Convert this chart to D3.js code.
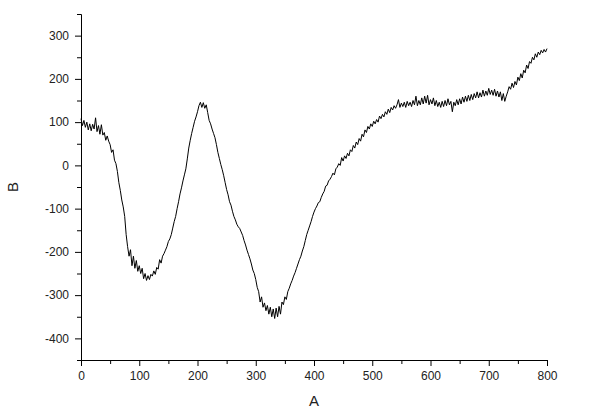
<!DOCTYPE html>
<html>
<head>
<meta charset="utf-8">
<script src="https://cdn.jsdelivr.net/npm/d3@7"></script>
<style>
  body { margin: 0; background: #fff; }
  .axis text { font-family: "Liberation Sans", Arial, sans-serif; font-size: 12px; fill: #222; }
  .axis path, .axis line { stroke: #000; }
  .title { font-family: "Liberation Sans", Arial, sans-serif; font-size: 15px; fill: #222; }
</style>
</head>
<body>
<svg></svg>
<script>
var screen = {width: 591, height: 410};
var margins = {top: 14, right: 44, bottom: 50, left: 81};

// B, one value every 2.5 units of A (0 .. 800)
var xStep = 2.5;
var bValues = [
  108, 92, 104, 88, 100, 82, 96, 80, 95, 84,
  110, 78, 92, 72, 94, 70, 76, 58, 68, 56,
  48, 30, 36, 12, 4, -14, -40, -58, -80, -96,
  -118, -160, -188, -210, -195, -232, -210, -238, -220, -245,
  -232, -250, -238, -262, -250, -266, -255, -264, -252, -256,
  -244, -252, -236, -240, -218, -226, -210, -204, -196, -188,
  -176, -170, -160, -145, -130, -118, -100, -84, -66, -52,
  -36, -22, -8, 15, 40, 58, 74, 88, 102, 112,
  124, 138, 146, 134, 145, 132, 140, 122, 104, 96,
  84, 74, 64, 48, 30, 16, 2, -10, -24, -40,
  -56, -68, -84, -92, -106, -118, -126, -136, -142, -146,
  -154, -162, -174, -184, -196, -206, -216, -228, -242, -250,
  -264, -282, -292, -316, -304, -328, -318, -336, -324, -344,
  -328, -350, -332, -354, -330, -350, -326, -344, -316, -322,
  -304, -310, -292, -284, -274, -266, -256, -248, -238, -228,
  -218, -210, -198, -188, -174, -160, -150, -140, -130, -118,
  -108, -100, -94, -86, -84, -74, -66, -60, -48, -46,
  -36, -32, -26, -18, -22, -8, -4, 4, 0, 18,
  10, 22, 16, 28, 22, 36, 32, 46, 40, 54,
  48, 62, 56, 72, 66, 82, 76, 90, 84, 96,
  90, 102, 96, 106, 100, 114, 108, 118, 112, 124,
  118, 130, 122, 134, 128, 138, 132, 140, 152, 134,
  144, 136, 146, 134, 148, 138, 146, 136, 150, 140,
  160, 138, 150, 140, 156, 142, 160, 144, 162, 140,
  152, 142, 156, 138, 150, 136, 146, 134, 148, 136,
  150, 138, 154, 140, 148, 124, 146, 138, 152, 140,
  154, 142, 158, 146, 160, 148, 162, 150, 164, 152,
  166, 156, 170, 156, 168, 158, 174, 160, 172, 162,
  178, 164, 174, 162, 176, 160, 172, 158, 170, 150,
  166, 148, 160, 170, 182, 176, 190, 180, 194, 186,
  204, 196, 212, 202, 220, 214, 232, 224, 240, 236,
  250, 244, 258, 250, 262, 256, 266, 260, 268, 262,
  270
];

var xTicks = [0, 100, 200, 300, 400, 500, 600, 700, 800];
var xMinor = [50, 150, 250, 350, 450, 550, 650, 750];
var yTicks = [-400, -300, -200, -100, 0, 100, 200, 300];
var yMinor = [-450, -350, -250, -150, -50, 50, 150, 250, 350];

var setup = function()
{
    var svg = d3.select("svg")
    .attr("width", screen.width)
    .attr("height", screen.height);

    var width = screen.width - margins.left - margins.right;
    var height = screen.height - margins.top - margins.bottom;

    var g = svg.append("g")
    .attr("transform", "translate(" + margins.left + "," + margins.top + ")");

    var xScale = d3.scaleLinear().domain([0, 800]).range([0, width]);
    var yScale = d3.scaleLinear().domain([-450, 350]).range([height, 0]);
    var plain = function(d){ return String(d); }; // hyphen minus, like the original

    // minor ticks first, no labels
    g.append("g").classed("axis", true)
    .attr("transform", "translate(0," + height + ")")
    .call(d3.axisBottom(xScale).tickValues(xMinor).tickSize(4).tickSizeOuter(0).tickFormat(""));
    g.append("g").classed("axis", true)
    .call(d3.axisLeft(yScale).tickValues(yMinor).tickSize(4).tickSizeOuter(0).tickFormat(""));

    g.append("g").classed("axis", true)
    .attr("transform", "translate(0," + height + ")")
    .call(d3.axisBottom(xScale).tickValues(xTicks).tickSize(6).tickSizeOuter(0).tickPadding(5).tickFormat(plain));
    g.append("g").classed("axis", true)
    .call(d3.axisLeft(yScale).tickValues(yTicks).tickSize(6).tickSizeOuter(0).tickPadding(6).tickFormat(plain));

    var line = d3.line()
    .x(function(d, i){ return xScale(i * xStep); })
    .y(function(d){ return yScale(d); });

    g.append("path")
    .datum(bValues)
    .attr("d", line)
    .attr("fill", "none")
    .attr("stroke", "#000")
    .attr("stroke-width", 1);

    svg.append("text").classed("title", true)
    .attr("x", margins.left + width / 2)
    .attr("y", 406)
    .attr("text-anchor", "middle")
    .text("A");

    svg.append("text").classed("title", true)
    .attr("transform", "translate(18," + (margins.top + height / 2) + ") rotate(-90)")
    .attr("text-anchor", "middle")
    .text("B");
}

setup();
</script>
</body>
</html>
